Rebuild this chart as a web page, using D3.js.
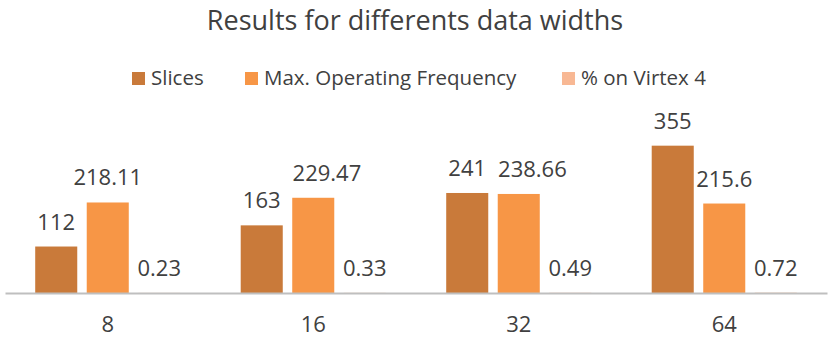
<!DOCTYPE html>
<html><head><meta charset="utf-8">
<script src="https://cdn.jsdelivr.net/npm/d3@7"></script>
<style>body{margin:0;background:#fff}svg{display:block}</style>
</head><body>
<script>
const categories = ["8", "16", "32", "64"];
const seriesNames = ["Slices", "Max. Operating Frequency", "% on Virtex 4"];
const slices = [112, 163, 241, 355];
const maxFreq = [218.11, 229.47, 238.66, 215.6];
const pctVirtex = [0.23, 0.33, 0.49, 0.72];
const seriesValues = [slices, maxFreq, pctVirtex];
const colors = ["#C97A3A", "#F79646", "#F8B894"];
const title = "Results for differents data widths";

const W = 830, H = 338;
const font = "'Open Sans', sans-serif";
const textColor = "#404040";
const svg = d3.select("body").append("svg").attr("width", W).attr("height", H);

const baseY = 293;
const x0 = d3.scaleBand().domain(categories).range([5, 827]).paddingInner(0.294).paddingOuter(0.147);
const x1 = d3.scaleBand().domain(d3.range(seriesNames.length)).range([0, x0.bandwidth()]).paddingInner(0.184).paddingOuter(0);
const y = d3.scaleLinear().domain([0, 400]).range([baseY, baseY - 166]);

svg.append("text").attr("x", 415).attr("y", 29.5).attr("text-anchor", "middle")
  .attr("font-family", font).attr("font-size", 27).attr("fill", textColor).text(title);

// legend
const legendX = [132, 245, 562];
const lg = svg.append("g");
seriesNames.forEach((n, i) => {
  lg.append("rect").attr("x", legendX[i]).attr("y", 72).attr("width", 13).attr("height", 13).attr("fill", colors[i]);
  lg.append("text").attr("x", legendX[i] + 19).attr("y", 85).attr("font-family", font).attr("font-size", 20.5)
    .attr("fill", textColor).text(n);
});

const groups = svg.selectAll("g.grp").data(categories).join("g").attr("class", "grp")
  .attr("transform", d => `translate(${x0(d)},0)`);

groups.each(function(cat, ci) {
  const g = d3.select(this);
  let prev = null;
  seriesValues.forEach((vals, si) => {
    const v = vals[ci];
    g.append("rect").attr("x", x1(si)).attr("width", x1.bandwidth())
      .attr("y", y(v)).attr("height", baseY - y(v)).attr("fill", colors[si]);
    const t = g.append("text").attr("x", x1(si) + x1.bandwidth() / 2).attr("y", y(v) - 17)
      .attr("text-anchor", "middle").attr("font-family", font).attr("font-size", 22)
      .attr("fill", textColor).text(v);
    // simple overlap avoidance (like the spreadsheet's label placement)
    const b = t.node().getBBox();
    if (prev && Math.abs(prev.y - b.y) < b.height && b.x < prev.x + prev.width + 12) {
      const shift = prev.x + prev.width + 12 - b.x;
      t.attr("x", +t.attr("x") + shift);
      b.x += shift;
    }
    prev = b;
  });
});

// axis
const axis = svg.append("g").attr("transform", `translate(0,${baseY})`)
  .call(d3.axisBottom(x0).tickSize(0).tickPadding(23));
axis.select(".domain").attr("stroke", "#BFBFBF").attr("stroke-width", 2);
axis.selectAll("text").attr("font-family", font).attr("font-size", 22).attr("fill", textColor);
</script>
</body></html>
